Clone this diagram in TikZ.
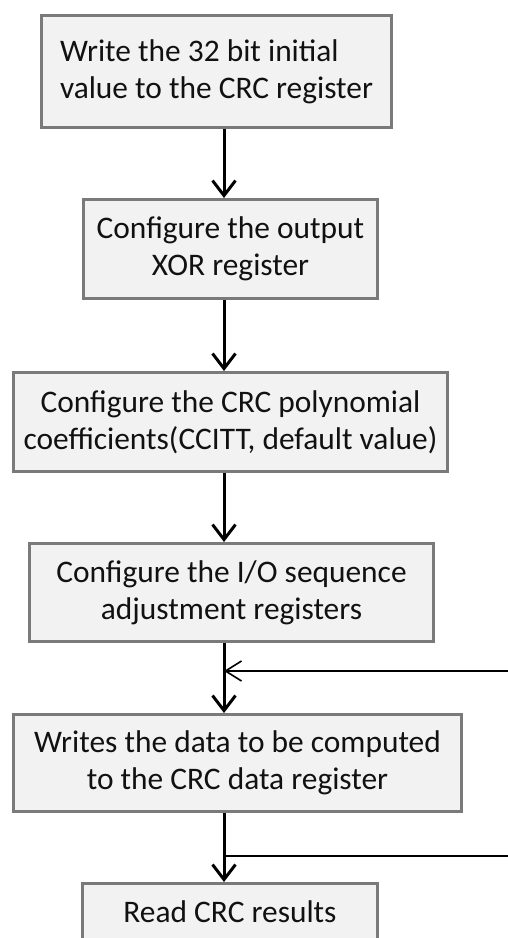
\documentclass[tikz,border=0pt]{standalone}
\usepackage{fontspec}
\setmainfont{Carlito}
\usetikzlibrary{arrows.meta}
\definecolor{edge}{HTML}{7A7A7A}
\definecolor{fillc}{HTML}{F2F2F2}
\definecolor{ink}{HTML}{111111}

\begin{document}
\begin{tikzpicture}[x=.5pt,y=-.5pt,font=\fontsize{15.7}{18.3}\selectfont,
 stage/.style={draw=edge,fill=fillc,line width=1.5pt,text=ink,align=center,inner sep=0pt},
 flow/.style={line width=1.5pt,-{Straight Barb[length=7.5pt,width=11.5pt]}},
 loop/.style={line width=.8pt}]
\useasboundingbox (0,0) rectangle (508,938);
\coordinate (spine) at (224,0);
\node[stage,align=left,minimum width=175pt,minimum height=56pt] (b1) at (216.5,71.5) {Write the 32 bit initial\\value to the CRC register};
\node[stage,minimum width=147pt,minimum height=49.5pt] (b2) at (230.5,249) {Configure the output\\XOR register};
\node[stage,minimum width=217pt,minimum height=49.5pt] (b3) at (230.5,422) {Configure the CRC polynomial\\coefficients(CCITT, default value)};
\node[stage,minimum width=202pt,minimum height=49pt] (b4) at (231.5,592.5) {Configure the I/O sequence\\adjustment registers};
\node[stage,minimum width=224pt,minimum height=48.5pt] (b5) at (237.5,763) {Writes the data to be computed\\to the CRC data register};
\node[stage,minimum width=147.5pt,minimum height=28.5pt] (b6) at (230,912) {Read CRC results};
\foreach \a/\b in {b1/b2,b2/b3,b3/b4,b4/b5,b5/b6}
 \draw[flow] (\a.south -| spine) -- (\b.north -| spine);
\coordinate (back) at (508,671);
\coordinate (out) at (508,856);
\draw[loop,-{Straight Barb[length=8pt,width=10pt]}] (back) -- (back -| spine);
\draw[loop] (out -| spine) -- (out);
\end{tikzpicture}
\end{document}
